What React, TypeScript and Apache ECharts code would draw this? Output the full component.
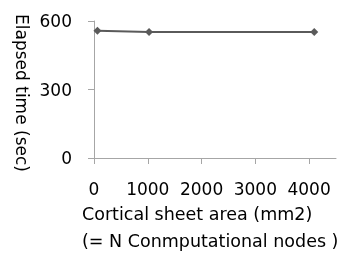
import React, { useEffect, useRef } from "react";
import * as echarts from "echarts";

const areas = [64, 1024, 4096];
const elapsed = [557, 552, 552];
const xTicks = [0, 1000, 2000, 3000, 4000];
const yTicks = [0, 300, 600];
const yName = "Elapsed time (sec)";
const xName1 = "Cortical sheet area (mm2)";
const xName2 = "(= N Conmputational nodes )";

const FONT = "DejaVu Sans";

export default function App() {
  const ref = useRef<HTMLDivElement>(null);
  useEffect(() => {
    const chart = echarts.init(ref.current!, null, { renderer: "svg" });
    chart.setOption({
      animation: false,
      grid: { left: 94, right: 8, top: 21, bottom: 95, outerBoundsMode: "none" },
      xAxis: {
        type: "value",
        min: 0,
        max: 4500,
        interval: 1000,
        axisLine: { show: true, lineStyle: { color: "#a6a6a6", width: 1 } },
        axisTick: { show: true, length: 6, customValues: xTicks, lineStyle: { color: "#a6a6a6" } },
        axisLabel: {
          customValues: xTicks,
          margin: 22,
          fontFamily: FONT,
          fontSize: 17,
          color: "#000",
          formatter: (v: number) => String(v),
        },
        splitLine: { show: false },
      },
      yAxis: {
        type: "value",
        min: yTicks[0],
        max: yTicks[yTicks.length - 1],
        interval: 300,
        axisLine: { show: true, lineStyle: { color: "#a6a6a6", width: 1 } },
        axisTick: { show: true, length: 6, lineStyle: { color: "#a6a6a6" } },
        axisLabel: {
          margin: 22,
          align: "right",
          fontFamily: FONT,
          fontSize: 17,
          color: "#000",
          formatter: (v: number) => String(v),
        },
        splitLine: { show: false },
      },
      series: [
        {
          type: "line",
          data: areas.map((a, i) => [a, elapsed[i]]),
          symbol: "diamond",
          symbolSize: 8,
          lineStyle: { color: "#5a5a5a", width: 2 },
          itemStyle: { color: "#5a5a5a" },
        },
      ],
      graphic: [
        {
          type: "text",
          x: 21.5,
          y: 93,
          rotation: -Math.PI / 2,
          style: { text: yName, fontFamily: FONT, fontSize: 17, fill: "#000", align: "center", verticalAlign: "middle" },
        },
        {
          type: "text",
          x: 82,
          y: 214,
          style: { text: xName1, fontFamily: FONT, fontSize: 17.5, fill: "#000", align: "left", verticalAlign: "middle" },
        },
        {
          type: "text",
          x: 82,
          y: 241,
          style: { text: xName2, fontFamily: FONT, fontSize: 17.5, fill: "#000", align: "left", verticalAlign: "middle" },
        },
      ],
    });
    return () => chart.dispose();
  }, []);
  return <div ref={ref} style={{ position: "fixed", left: 0, top: 0, width: 344, height: 253 }} />;
}
